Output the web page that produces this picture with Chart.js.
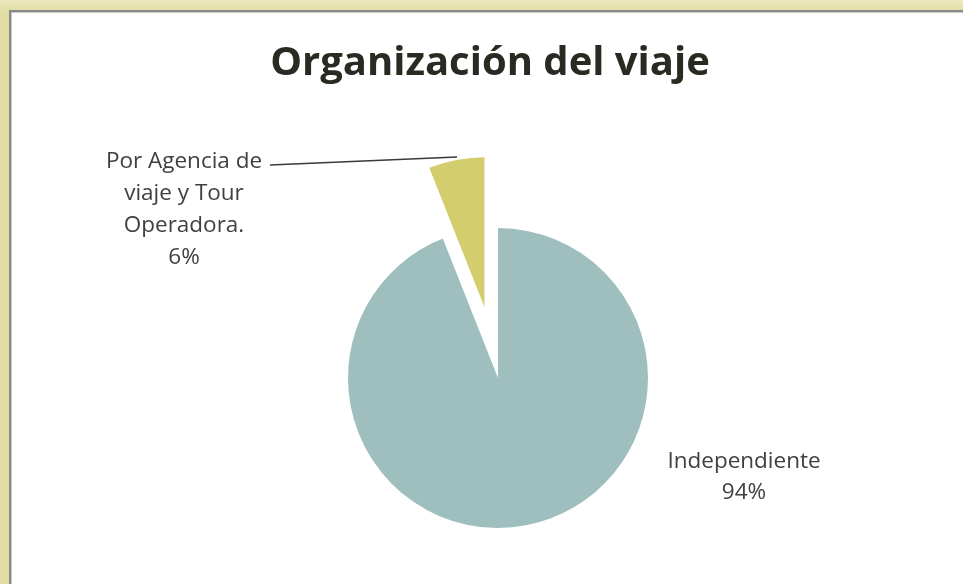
<!DOCTYPE html>
<html>
<head>
<meta charset="utf-8">
<script src="https://cdn.jsdelivr.net/npm/chart.js@4.4.0/dist/chart.umd.min.js"></script>
<style>
    html, body {
        margin: 0;
        padding: 0;
        width: 963px;
        height: 584px;
        overflow: hidden;
        background: linear-gradient(to bottom, #ece8bf, #e2dda4 12px);
    }
    .frame {
        position: absolute;
        left: 9px;
        top: 10px;
        width: 1000px;
        height: 700px;
        background: #fff;
        border-top: 2px solid #8a8a8a;
        border-left: 2px solid #8a8a8a;
        box-shadow: inset 1px 1px 0 #c8c8c8;
    }
    #chart-wrap {
        position: absolute;
        left: 0;
        top: 0;
        width: 963px;
        height: 584px;
    }
</style>
</head>
<body>
<div class="frame"></div>
<div id="chart-wrap"><canvas id="pieChart"></canvas></div>
<script>
const chartTitle = "Organización del viaje";
const categories = ["Independiente", "Por Agencia de viaje y Tour Operadora."];
const labelLines = [["Independiente"], ["Por Agencia de", "viaje y Tour", "Operadora."]];
const percentages = [94, 6];
const sliceColors = ["#9fbfbe", "#d4cd6d"];

// pull the small slice out along its bisector (Excel style explosion)
const explodeSlice = {
    id: "explodeSlice",
    afterDatasetUpdate(chart, args, opts) {
        args.meta.data.forEach((arc, i) => {
            const d = (opts.distance || [])[i] || 0;
            if (!d) return;
            const mid = (arc.startAngle + arc.endAngle) / 2;
            arc.x += Math.cos(mid) * d;
            arc.y += Math.sin(mid) * d;
        });
    }
};

// title and data labels with a leader line for the exploded slice
const pieLabels = {
    id: "pieLabels",
    afterDatasetsDraw(chart) {
        const ctx = chart.ctx;
        const meta = chart.getDatasetMeta(0);
        const cx = meta.data[0].x;
        const cy = meta.data[0].y;
        ctx.save();

        ctx.font = "bold 40px 'Open Sans'";
        ctx.fillStyle = "#2b2a22";
        ctx.textAlign = "center";
        ctx.textBaseline = "alphabetic";
        ctx.fillText(chartTitle, 490, 75);

        ctx.font = "22.5px 'Open Sans'";
        ctx.fillStyle = "#404040";
        ctx.textBaseline = "middle";

        const l0 = labelLines[0].concat([percentages[0] + "%"]);
        l0.forEach((t, k) => ctx.fillText(t, cx + 246, cy + 84 + k * 31));

        const l1 = labelLines[1].concat([percentages[1] + "%"]);
        l1.forEach((t, k) => ctx.fillText(t, cx - 314, cy - 216 + k * 32));

        ctx.strokeStyle = "#3a3a3a";
        ctx.lineWidth = 1.3;
        ctx.beginPath();
        ctx.moveTo(cx - 228, cy - 213);
        ctx.lineTo(cx - 41, cy - 221);
        ctx.stroke();
        ctx.restore();
    }
};

new Chart(document.getElementById("pieChart").getContext("2d"), {
    type: "pie",
    data: {
        labels: categories,
        datasets: [{
            data: percentages,
            backgroundColor: sliceColors,
            borderWidth: 0,
            hoverOffset: 0
        }]
    },
    options: {
        responsive: true,
        maintainAspectRatio: false,
        animation: false,
        layout: {
            padding: { left: 33, right: 0, top: 228, bottom: 56 }
        },
        plugins: {
            legend: { display: false },
            tooltip: { enabled: false },
            title: { display: false },
            explodeSlice: { distance: [0, 72] }
        }
    },
    plugins: [explodeSlice, pieLabels]
});
</script>
</body>
</html>
